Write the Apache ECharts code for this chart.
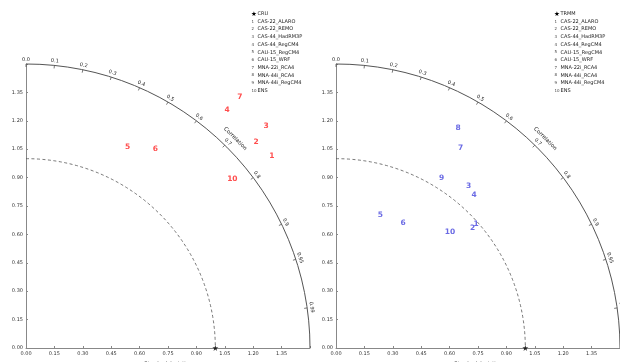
<!DOCTYPE html>
<html><head><meta charset="utf-8">
<script src="https://cdn.jsdelivr.net/npm/echarts@6/dist/echarts.min.js"></script>
<style>html,body{margin:0;padding:0;background:#fff}#c{width:620px;height:362px}</style>
</head><body><div id="c"></div>
<script>
// ---- data ----
const models = ['CAS-22_ALARO','CAS-22_REMO','CAS-44_HadRM3P','CAS-44_RegCM4','CAU-15_RegCM4','CAU-15_WRF','MNA-22i_RCA4','MNA-44i_RCA4','MNA-44i_RegCM4','ENS'];
const modelIds = [1,2,3,4,5,6,7,8,9,10];
const leftRefName = 'CRU';
const rightRefName = 'TRMM';
const refStd = 1.0;
const refCorr = 1.0;
const leftIds  = [1,2,3,4,5,6,7,10];
const leftStd  = [1.648,1.630,1.726,1.646,1.191,1.254,1.743,1.410];
const leftCorr = [0.788,0.746,0.735,0.645,0.451,0.545,0.648,0.773];
const rightIds  = [1,2,3,4,5,6,7,8,9,10];
const rightStd  = [0.988,0.961,1.107,1.090,0.738,0.749,1.245,1.329,1.057,0.860];
const rightCorr = [0.749,0.751,0.633,0.669,0.317,0.473,0.529,0.485,0.528,0.700];
const corrTicks = [0,0.1,0.2,0.3,0.4,0.5,0.6,0.7,0.8,0.9,0.95,0.99];
const corrTickLabels = ['0.0','0.1','0.2','0.3','0.4','0.5','0.6','0.7','0.8','0.9','0.95','0.99'];
const stdMin = 0, stdMax = 1.5, stdStep = 0.15;
const xTitle = 'Standard deviation';
const corrTitle = 'Correlation';

// ---- helpers ----
const FONT = 'DejaVu Sans';
function toXY(s, c){ return [s*c, s*Math.sqrt(Math.max(0,1-c*c))]; }

function axis(gridIndex, isX){
  const a = {
    type:'value', gridIndex, min:stdMin, max:stdMax, interval:stdStep,
    axisLine:{show:true, onZero:false, lineStyle:{color:'#888', width:1}},
    axisTick:{show:true, inside:true, length:2, lineStyle:{color:'#888'}},
    splitLine:{show:false},
    axisLabel:{fontSize:5, color:'#333', fontFamily:FONT, margin:3,
      formatter:v => v >= stdMax-1e-6 ? '' : v.toFixed(2)}
  };
  if (isX){
    a.name = xTitle; a.nameLocation = 'middle'; a.nameGap = 9.5;
    a.nameTextStyle = {fontSize:5, color:'#333', fontFamily:FONT};
  }
  return a;
}

function frameRender(params, api){
  const o = api.coord([0,0]);
  const u = api.coord([1,0])[0] - o[0];
  const ch = [];
  ch.push({type:'arc', shape:{cx:o[0], cy:o[1], r:stdMax*u, startAngle:-Math.PI/2, endAngle:0, clockwise:true},
    style:{stroke:'#555', fill:null, lineWidth:1}});
  ch.push({type:'arc', shape:{cx:o[0], cy:o[1], r:refStd*u, startAngle:-Math.PI/2, endAngle:0, clockwise:true},
    style:{stroke:'#555', fill:null, lineWidth:0.8, lineDash:[3,2.5]}});
  corrTicks.forEach((c,i)=>{
    const p1 = api.coord(toXY(stdMax, c));
    const p0 = api.coord(toXY(stdMax - 3/u, c));
    ch.push({type:'line', shape:{x1:p0[0], y1:p0[1], x2:p1[0], y2:p1[1]}, style:{stroke:'#555', lineWidth:0.8}});
    const pl = api.coord(toXY(stdMax + 4.5/u, c));
    const t = Math.acos(c);
    ch.push({type:'text', x:pl[0], y:pl[1], rotation:t - Math.PI/2,
      style:{text:corrTickLabels[i], fontSize:5, fontFamily:FONT, fill:'#222', align:'center', verticalAlign:'middle'}});
  });
  const pc = api.coord(toXY(stdMax + 12/u, Math.SQRT1_2));
  ch.push({type:'text', x:pc[0], y:pc[1], rotation:-Math.PI/4,
    style:{text:corrTitle, fontSize:5.5, fontFamily:FONT, fill:'#222', align:'center', verticalAlign:'middle'}});
  return {type:'group', children:ch};
}

function pointSeries(gi, ids, stds, corrs, color){
  return {type:'scatter', xAxisIndex:gi, yAxisIndex:gi, silent:true, z:5,
    data: ids.map((id,i)=>{ const p = toXY(stds[i], corrs[i]); return [p[0], p[1], id]; }),
    symbolSize:1, itemStyle:{color:'rgba(0,0,0,0)'},
    label:{show:true, position:'inside', formatter:p=>String(p.value[2]), color, fontSize:7.5, fontWeight:'bold', fontFamily:FONT}};
}
const STAR = 'path://M50,0 L61,35 L98,35 L68,57 L79,91 L50,70 L21,91 L32,57 L2,35 L39,35 Z';
function refSeries(gi){
  return {type:'scatter', xAxisIndex:gi, yAxisIndex:gi, silent:true, z:6,
    data:[toXY(refStd, refCorr)], symbol:STAR, symbolSize:6, itemStyle:{color:'#000'}};
}
function frameSeries(gi){
  return {type:'custom', xAxisIndex:gi, yAxisIndex:gi, silent:true, clip:false, z:1,
    data:[[0,0]], renderItem:frameRender};
}

function legend(x0, refName){
  const els = [];
  const y0 = 14.3, dy = 7.7;
  els.push({type:'text', left:x0-3, top:y0-3.5, style:{text:'★', fontSize:6.5, fontFamily:FONT, fill:'#000'}});
  els.push({type:'text', left:x0+3.5, top:y0-3, style:{text:refName, fontSize:5, fontFamily:FONT, fill:'#222'}});
  models.forEach((m,i)=>{
    const y = y0 + dy*(i+1);
    els.push({type:'text', left:x0-2.5, top:y-2.5, style:{text:String(modelIds[i]), fontSize:4, fontFamily:FONT, fill:'#444'}});
    els.push({type:'text', left:x0+3.5, top:y-3, style:{text:m, fontSize:5, fontFamily:FONT, fill:'#222'}});
  });
  return els;
}

const chart = echarts.init(document.getElementById('c'), null, {renderer:'canvas'});
chart.setOption({
  animation:false,
  backgroundColor:'#fff',
  grid:[
    {left:26, top:64, width:284, height:284, containLabel:false, outerBoundsMode:'none'},
    {left:336, top:64, width:284, height:284, containLabel:false, outerBoundsMode:'none'}
  ],
  xAxis:[axis(0,true), axis(1,true)],
  yAxis:[axis(0,false), axis(1,false)],
  series:[
    frameSeries(0), frameSeries(1),
    refSeries(0), refSeries(1),
    pointSeries(0, leftIds, leftStd, leftCorr, '#ff2020'),
    pointSeries(1, rightIds, rightStd, rightCorr, '#4545dd')
  ],
  graphic:[...legend(254, leftRefName), ...legend(557, rightRefName)]
});
</script></body></html>
